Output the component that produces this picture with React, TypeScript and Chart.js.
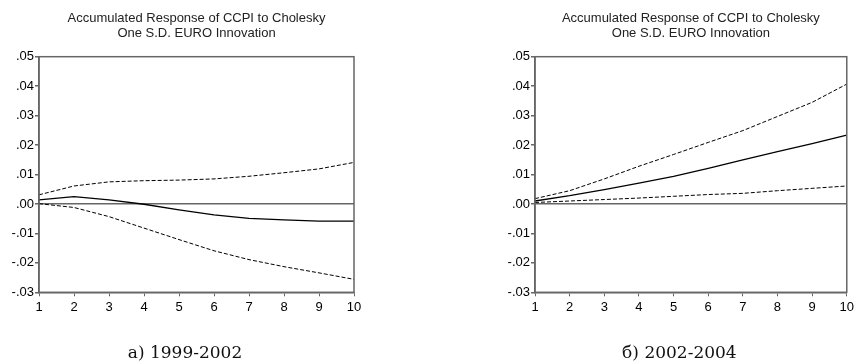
import React, { useEffect, useRef } from "react";
import { Chart, registerables } from "chart.js";

Chart.register(...registerables);

const horizons = ["1", "2", "3", "4", "5", "6", "7", "8", "9", "10"];

const leftResponse = [0.0014, 0.0025, 0.0014, -0.0001, -0.002, -0.0037, -0.0049, -0.0054, -0.0058, -0.0058];
const leftUpper = [0.0031, 0.0061, 0.0075, 0.0079, 0.0081, 0.0085, 0.0094, 0.0106, 0.0119, 0.0141];
const leftLower = [0.0001, -0.0012, -0.0043, -0.0082, -0.0121, -0.0159, -0.0189, -0.0213, -0.0234, -0.0256];

const rightResponse = [0.001, 0.0028, 0.0049, 0.0071, 0.0094, 0.0121, 0.015, 0.0178, 0.0205, 0.0234];
const rightUpper = [0.0018, 0.0045, 0.0085, 0.0128, 0.0168, 0.0209, 0.0249, 0.0297, 0.0345, 0.0407];
const rightLower = [0.0005, 0.001, 0.0015, 0.002, 0.0026, 0.0032, 0.0036, 0.0045, 0.0053, 0.0061];

const yTickValues = [-0.03, -0.02, -0.01, 0, 0.01, 0.02, 0.03, 0.04, 0.05];
const yTickLabels = ["-.03", "-.02", "-.01", ".00", ".01", ".02", ".03", ".04", ".05"];

const titleLines = ["Accumulated Response of CCPI to Cholesky", "One S.D. EURO Innovation"];
const captions = ["а) 1999-2002", "б) 2002-2004"];

const SANS = "'Liberation Sans', Arial, sans-serif";
const SERIF = "'DejaVu Serif', serif";
const FRAME = "#666666";

function makeDecor(caption: string) {
  return {
    id: "decor",
    afterDatasetsDraw(chart: any) {
      const { ctx, chartArea } = chart;
      ctx.save();
      ctx.strokeStyle = FRAME;
      ctx.lineWidth = 1.5;
      ctx.strokeRect(chartArea.left, chartArea.top, chartArea.right - chartArea.left, chartArea.bottom - chartArea.top);
      ctx.restore();
    },
    afterDraw(chart: any) {
      const { ctx, chartArea } = chart;
      const cx = (chartArea.left + chartArea.right) / 2;
      ctx.save();
      ctx.fillStyle = "#222";
      ctx.textAlign = "center";
      ctx.textBaseline = "middle";
      ctx.font = "13px " + SANS;
      ctx.fillText(titleLines[0], cx, 18.5);
      ctx.fillText(titleLines[1], cx, 33.5);
      ctx.fillStyle = "#111";
      ctx.font = "17px " + SERIF;
      ctx.fillText(caption, cx - 11.5, 354);
      ctx.restore();
    },
  };
}

function makeConfig(resp: number[], upper: number[], lower: number[], padLeft: number, padRight: number, caption: string): any {
  const line = (data: number[], dashed: boolean) => ({
    data,
    borderColor: "#000",
    borderWidth: dashed ? 1 : 1.3,
    borderDash: dashed ? [4, 2] : [],
    pointRadius: 0,
    fill: false,
    tension: 0,
  });
  return {
    type: "line",
    data: {
      labels: horizons,
      datasets: [line(upper, true), line(resp, false), line(lower, true)],
    },
    options: {
      animation: false,
      responsive: false,
      layout: { padding: { left: padLeft, right: padRight, top: 56.7, bottom: 0 } },
      plugins: { legend: { display: false }, title: { display: false }, tooltip: { enabled: false } },
      scales: {
        x: {
          type: "category",
          offset: false,
          afterFit: (s: any) => {
            s.height = 69.7;
          },
          grid: {
            drawOnChartArea: false,
            tickLength: 4,
            tickColor: FRAME,
            offset: false,
          },
          border: { color: FRAME, width: 1.5 },
          ticks: {
            color: "#000",
            font: { family: SANS, size: 13 },
            padding: 3,
            maxRotation: 0,
            autoSkip: false,
          },
        },
        y: {
          type: "linear",
          min: -0.03,
          max: 0.05,
          afterFit: (s: any) => {
            s.width = 39;
          },
          afterBuildTicks: (s: any) => {
            s.ticks = yTickValues.map((v) => ({ value: v }));
          },
          grid: {
            color: (c: any) => (c.tick && Math.abs(c.tick.value) < 1e-9 ? FRAME : "rgba(0,0,0,0)"),
            lineWidth: 1.5,
            tickLength: 4,
            tickColor: FRAME,
          },
          border: { color: FRAME, width: 1.5 },
          ticks: {
            color: "#000",
            font: { family: SANS, size: 13 },
            padding: 1,
            callback: (_v: any, i: number) => yTickLabels[i],
          },
        },
      },
    },
    plugins: [makeDecor(caption)],
  };
}

export default function App() {
  const leftRef = useRef<HTMLCanvasElement>(null);
  const rightRef = useRef<HTMLCanvasElement>(null);

  useEffect(() => {
    document.body.style.margin = "0";
    const c1 = new Chart(leftRef.current as HTMLCanvasElement, makeConfig(leftResponse, leftUpper, leftLower, 0, 74, captions[0]));
    const c2 = new Chart(rightRef.current as HTMLCanvasElement, makeConfig(rightResponse, rightUpper, rightLower, 68, 7.3, captions[1]));
    return () => {
      c1.destroy();
      c2.destroy();
    };
  }, []);

  return (
    <div style={{ position: "relative", width: 857, height: 362, background: "#fff" }}>
      <canvas ref={leftRef} width={428} height={362} style={{ position: "absolute", left: 0, top: 0 }} />
      <canvas ref={rightRef} width={429} height={362} style={{ position: "absolute", left: 428, top: 0 }} />
    </div>
  );
}
